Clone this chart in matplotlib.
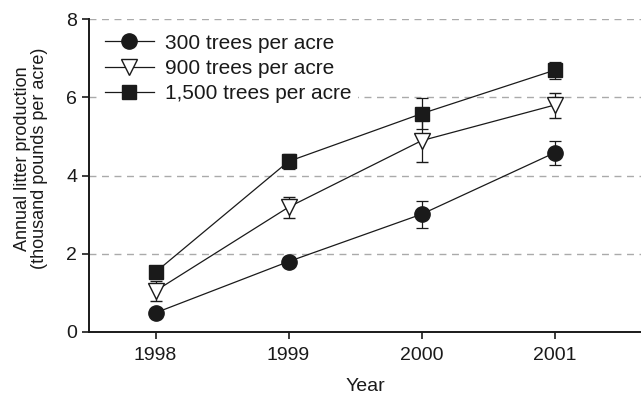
import matplotlib
matplotlib.use("Agg")
import matplotlib.pyplot as plt
from matplotlib.lines import Line2D

plt.rcParams['font.family'] = ['Liberation Sans', 'DejaVu Sans']

years = [1998, 1999, 2000, 2001]
labels = ["300 trees per acre", "900 trees per acre", "1,500 trees per acre"]
litter_300 = [0.49, 1.80, 3.01, 4.58]
err_300 = [0.08, 0.12, 0.35, 0.30]
litter_900 = [1.05, 3.19, 4.89, 5.80]
err_900 = [0.25, 0.27, 0.55, 0.32]
litter_1500 = [1.53, 4.36, 5.58, 6.69]
err_1500 = [0.10, 0.20, 0.39, 0.22]

ink = '#1a1a1a'
fig = plt.figure(figsize=(6.41, 3.99), dpi=100)
ax = fig.add_axes([89 / 641, 1 - 332 / 399, (641 - 89) / 641, (332 - 19) / 399])

styles = [
    dict(marker='o', mfc=ink, mec=ink, ms=11),
    dict(marker='v', mfc='white', mec=ink, ms=11, mew=1.0),
    dict(marker='s', mfc=ink, mec=ink, ms=9.5),
]
series = [(litter_300, err_300), (litter_900, err_900), (litter_1500, err_1500)]

handles = []
for (vals, errs), st, lab in zip(series, styles, labels):
    ax.errorbar(years, vals, yerr=errs, color=ink, lw=0.9,
                elinewidth=0.9, capsize=4, capthick=0.9, **st)
    handles.append(Line2D([], [], color=ink, lw=0.9, label=lab, **st))

ax.set_xlim(1997.5, 2001.65)
ax.set_ylim(0, 8)
ax.set_xticks(years)
ax.set_yticks([0, 2, 4, 6, 8])
for y in [2, 4, 6, 8]:
    ax.axhline(y, color='#aaaaaa', lw=1.0, ls=(0, (5, 4)), zorder=0)

for s in ['top', 'right']:
    ax.spines[s].set_visible(False)
for s in ['left', 'bottom']:
    ax.spines[s].set_linewidth(1.4)
    ax.spines[s].set_color(ink)
ax.tick_params(axis='both', labelsize=14, colors=ink, width=1.2, length=5)
ax.tick_params(axis='x', pad=6)

ax.set_xlabel("Year", fontsize=14, color=ink, labelpad=10)
ax.set_ylabel("Annual litter production\n(thousand pounds per acre)", fontsize=13,
              color=ink, linespacing=0.95)
ax.yaxis.set_label_coords(-0.075, 0.555)

leg = ax.legend(handles=handles, loc='upper left', bbox_to_anchor=(0.017, 0.973),
                frameon=True, facecolor='white', edgecolor='none', framealpha=1.0,
                fancybox=False, fontsize=15, handlelength=2.35, handletextpad=0.55,
                labelspacing=0.3, borderaxespad=0.0, borderpad=0.3)
for t in leg.get_texts():
    t.set_color(ink)

fig.savefig("out.png", dpi=100)
